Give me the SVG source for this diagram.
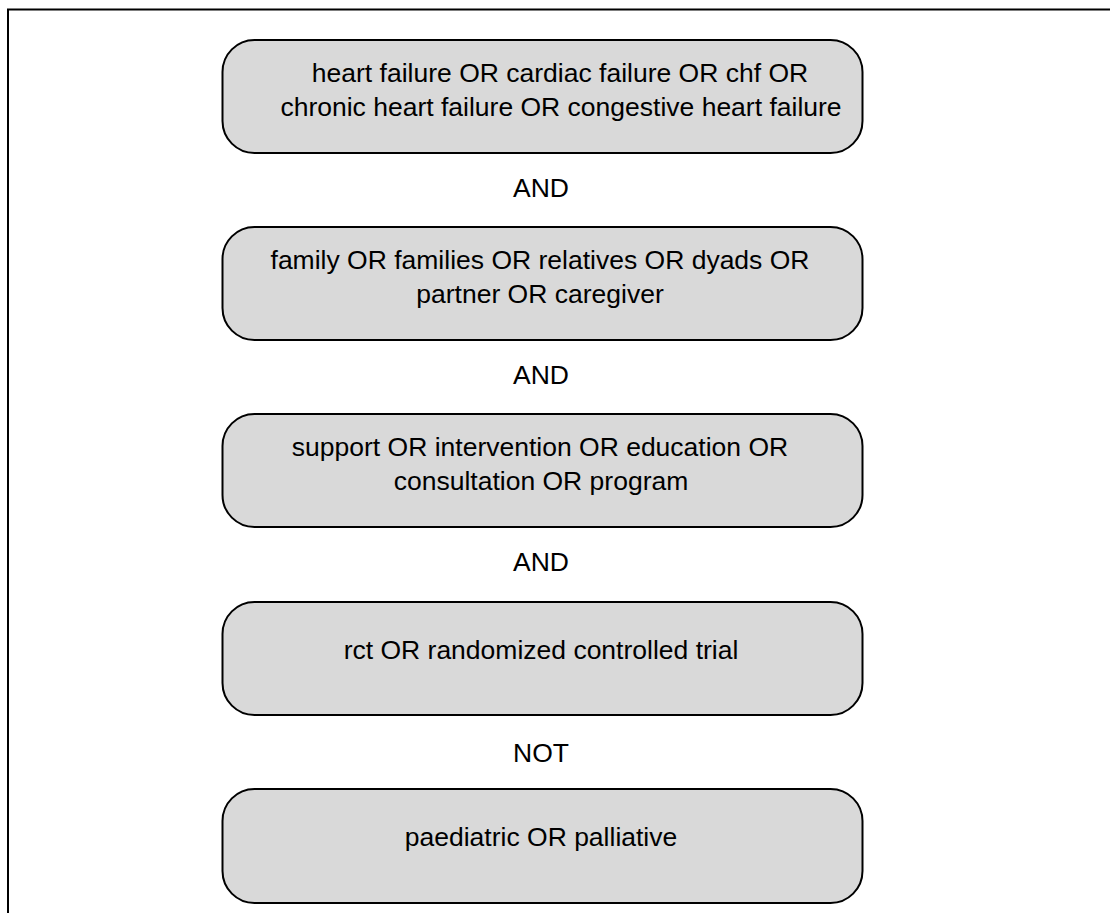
<svg xmlns="http://www.w3.org/2000/svg" width="1110" height="913" viewBox="0 0 1110 913">
<style>
.box{fill:#d9d9d9;stroke:#000;stroke-width:2}
.t{font-family:"Liberation Sans",Arial,sans-serif;font-size:26.5px;fill:#000;text-anchor:middle}
.frame{fill:none;stroke:#000;stroke-width:2}
</style>
<rect width="1110" height="913" fill="#fff"/>
<path class="frame" d="M8,913 V9.5 H1110"/>
<g id="connectors">
<text class="t" x="541" y="197">AND</text>
<text class="t" x="541" y="384">AND</text>
<text class="t" x="541" y="571">AND</text>
<text class="t" x="541" y="762">NOT</text>
</g>
<g id="node1">
<rect class="box" x="222.5" y="40" width="640" height="113" rx="32"/>
<text class="t" x="560" y="82">heart failure OR cardiac failure OR chf OR</text>
<text class="t" x="561" y="116">chronic heart failure OR congestive heart failure</text>
</g>
<g id="node2">
<rect class="box" x="222.5" y="227" width="640" height="113" rx="32"/>
<text class="t" x="540" y="269">family OR families OR relatives OR dyads OR</text>
<text class="t" x="540" y="303">partner OR caregiver</text>
</g>
<g id="node3">
<rect class="box" x="222.5" y="414" width="640" height="113" rx="32"/>
<text class="t" x="540" y="456">support OR intervention OR education OR</text>
<text class="t" x="541" y="490">consultation OR program</text>
</g>
<g id="node4">
<rect class="box" x="222.5" y="602" width="640" height="113" rx="32"/>
<text class="t" x="541" y="659">rct OR randomized controlled trial</text>
</g>
<g id="node5">
<rect class="box" x="222.5" y="789" width="640" height="114" rx="32"/>
<text class="t" x="541" y="846">paediatric OR palliative</text>
</g>
</svg>
